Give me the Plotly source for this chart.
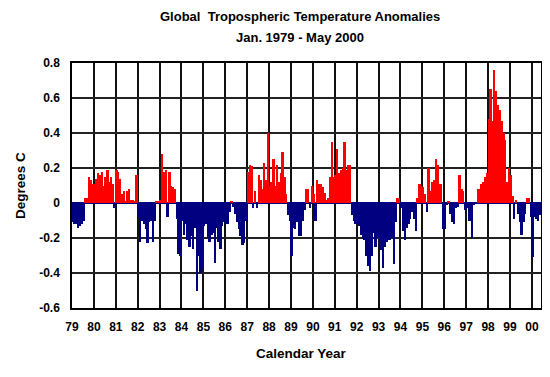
import plotly.graph_objects as go

# Monthly anomalies (deg C), Jan 1979 - May 2000
y1979 = [-0.11, -0.12, -0.12, -0.14, -0.13, -0.12, -0.10, 0.03, 0.03, 0.15, 0.13, 0.11]
y1980 = [0.11, 0.14, 0.17, 0.16, 0.18, 0.10, 0.15, 0.19, 0.12, 0.15, 0.11, -0.03]
y1981 = [0.19, 0.18, 0.14, 0.05, 0.07, 0.01, 0.07, 0.08, 0.02, 0.02, 0.01, 0.16]
y1982 = [-0.08, -0.22, -0.10, -0.12, -0.15, -0.23, -0.11, -0.10, -0.22, -0.10, 0.01, 0.01]
y1983 = [0.02, 0.28, 0.18, 0.19, -0.08, 0.18, 0.10, 0.09, 0.08, -0.09, -0.29, -0.30]
y1984 = [-0.10, -0.18, -0.12, -0.21, -0.25, -0.19, -0.26, -0.14, -0.50, -0.30, -0.40, -0.38]
y1985 = [-0.13, -0.12, -0.20, -0.22, -0.18, -0.17, -0.34, -0.14, -0.22, -0.26, -0.13, -0.11]
y1986 = [-0.12, -0.12, -0.05, 0.01, -0.02, -0.06, -0.11, -0.15, -0.19, -0.24, -0.23, -0.10]
y1987 = [0.18, 0.22, 0.21, -0.03, 0.07, -0.03, 0.16, 0.13, 0.08, 0.23, 0.13, 0.40]
y1988 = [0.10, 0.12, 0.25, 0.10, 0.22, 0.12, 0.17, 0.29, 0.15, 0.05, -0.07, -0.10]
y1989 = [-0.30, -0.14, -0.15, -0.11, -0.19, -0.19, -0.10, -0.04, 0.08, 0.08, -0.03, 0.10]
y1990 = [0.05, -0.10, 0.13, 0.11, 0.11, 0.09, 0.06, 0.02, 0.03, 0.15, 0.35, 0.15]
y1991 = [0.16, 0.31, 0.17, 0.19, 0.20, 0.35, 0.19, 0.22, 0.22, -0.07, -0.10, -0.12]
y1992 = [-0.10, -0.13, -0.18, -0.20, -0.21, -0.30, -0.36, -0.39, -0.30, -0.17, -0.25, -0.20]
y1993 = [-0.16, -0.27, -0.37, -0.25, -0.22, -0.21, -0.21, -0.20, -0.35, -0.11, 0.03, 0.03]
y1994 = [-0.03, -0.16, -0.21, -0.14, -0.12, -0.09, -0.05, -0.09, -0.16, 0.03, 0.11, 0.10]
y1995 = [0.09, 0.05, -0.05, 0.20, 0.07, 0.12, 0.13, 0.25, 0.22, 0.11, 0.11, -0.15]
y1996 = [-0.15, -0.01, 0.01, -0.06, -0.11, -0.12, -0.03, -0.02, 0.16, 0.08, 0.07, -0.04]
y1997 = [-0.03, -0.10, -0.10, -0.20, -0.01, 0.00, 0.08, 0.08, 0.11, 0.12, 0.15, 0.17]
y1998 = [0.48, 0.65, 0.47, 0.76, 0.64, 0.56, 0.53, 0.47, 0.40, 0.36, 0.12, 0.20]
y1999 = [0.16, 0.04, -0.09, 0.02, -0.06, -0.11, -0.18, -0.11, -0.06, 0.03, 0.03, -0.08]
y2000 = [-0.31, -0.08, -0.09, -0.10, -0.07]

years = list(range(1979, 2001))
series = [y1979, y1980, y1981, y1982, y1983, y1984, y1985, y1986, y1987, y1988,
          y1989, y1990, y1991, y1992, y1993, y1994, y1995, y1996, y1997, y1998,
          y1999, y2000]

tick_labels = ["79", "80", "81", "82", "83", "84", "85", "86", "87", "88", "89",
               "90", "91", "92", "93", "94", "95", "96", "97", "98", "99", "00"]
y_ticks = [0.8, 0.6, 0.4, 0.2, 0.0, -0.2, -0.4, -0.6]
y_tick_text = ["0.8", "0.6", "0.4", "0.2", "0", "-0.2", "-0.4", "-0.6"]

xs, vals = [], []
for yr, arr in zip(years, series):
    for m, v in enumerate(arr):
        xs.append(yr + (m + 0.5) / 12.0)
        vals.append(v)

colors = ["#FF0000" if v >= 0 else "#000080" for v in vals]

FONT = "Liberation Sans, Arial, sans-serif"
OFF = 8  # page body margin offset
W, H = 550 - OFF, 377 - OFF
L, T = 72 - OFF, 63 - OFF
R = W - (541 - OFF)
B = H - (308 - OFF)
pw, ph = W - L - R, H - T - B


def px_x(x):
    return (x - OFF - L) / pw


def px_y(y):
    return 1 - (y - OFF - T) / ph


def label(text, x, y, size, angle=0):
    return dict(text="<b>%s</b>" % text, textangle=angle,
                x=px_x(x), y=px_y(y), xref="paper", yref="paper",
                xanchor="center", yanchor="middle", showarrow=False,
                font=dict(family=FONT, size=size, color="black"))


fig = go.Figure()
fig.add_trace(go.Bar(x=xs, y=vals, width=1 / 12.0,
                     marker=dict(color=colors, line=dict(width=0)),
                     showlegend=False))

fig.update_layout(
    width=W, height=H,
    margin=dict(l=L, r=R, t=T, b=B, autoexpand=False),
    paper_bgcolor="white", plot_bgcolor="white",
    bargap=0,
    font=dict(family=FONT, size=12, color="black"),
    annotations=[
        label("Global  Tropospheric Temperature Anomalies", 300, 17, 13),
        label("Jan. 1979 - May 2000", 300, 37, 13),
        label("Calendar Year", 301, 353, 13.5),
        label("Degrees C", 20, 186, 13.5, angle=-90),
    ],
)

fig.update_xaxes(
    range=[1979, 2000 + 5 / 12.0], automargin=False,
    tickvals=years, ticktext=["<b>%s</b>" % t for t in tick_labels],
    showgrid=True, gridcolor="#111111", gridwidth=1.5,
    showline=True, linecolor="black", linewidth=1.5, mirror=True,
    ticks="", zeroline=False, ticklabelstandoff=7,
    tickfont=dict(family=FONT, size=12, color="black"),
)
fig.update_yaxes(
    range=[-0.6, 0.8], automargin=False,
    tickvals=y_ticks, ticktext=["<b>%s</b>" % t for t in y_tick_text],
    showgrid=True, gridcolor="#222222", gridwidth=1.5,
    showline=True, linecolor="black", linewidth=1.5, mirror=True,
    zeroline=True, zerolinecolor="#000080", zerolinewidth=1.5,
    ticks="", ticklabelstandoff=8,
    tickfont=dict(family=FONT, size=12, color="black"),
)

fig.write_html("out.html")
